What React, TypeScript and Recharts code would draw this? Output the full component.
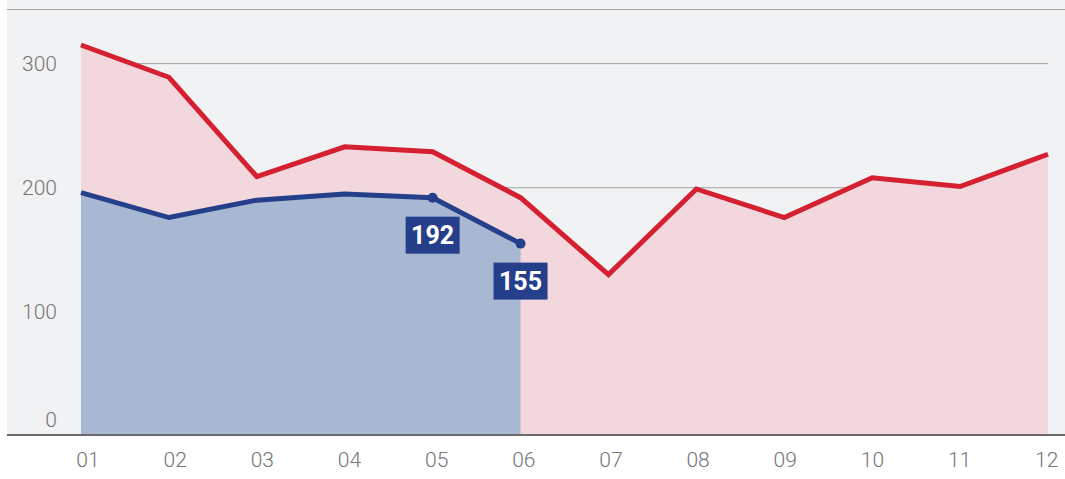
import React from "react";
import { ComposedChart, Area, XAxis, YAxis, CartesianGrid, LabelList } from "recharts";

const months = ["01", "02", "03", "04", "05", "06", "07", "08", "09", "10", "11", "12"];
const prevYear = [315, 289, 209, 233, 229, 192, 130, 199, 176, 208, 201, 227];
const thisYear = [196, 176, 190, 195, 192, 155];
const yTicks = [0, 100, 200, 300];
const labelledMonths = ["05", "06"];

const data = months.map((m, i) => ({
  month: m,
  prev: prevYear[i],
  cur: i < thisYear.length ? thisYear[i] : null,
}));

const YTick = (props: any) => {
  const { y, payload } = props;
  const shift = payload.value === 0 ? -16 : 0;
  return (
    <text x={57} y={y + shift + 7} textAnchor="end" fill="#757575" fontSize={21} fontWeight={300} fontFamily="Roboto">
      {payload.value}
    </text>
  );
};

const XTick = (props: any) => {
  const { x, payload, index } = props;
  // labels sit slightly right of the points at the start, drifting back by the end
  const nudge = 7 - 0.75 * index;
  return (
    <text x={x + nudge} y={467} textAnchor="middle" fill="#757575" fontSize={21} fontWeight={300} fontFamily="Roboto">
      {payload.value}
    </text>
  );
};

const Dot = (props: any) => {
  const { cx, cy, payload } = props;
  if (!labelledMonths.includes(payload.month) || cy == null) return <g />;
  return <circle cx={cx} cy={cy} r={5} fill="#253f8a" />;
};

const ValueLabel = (props: any) => {
  const { x, y, value, index } = props;
  if (!labelledMonths.includes(months[index]) || value == null) return null;
  const w = 54;
  const h = 37;
  const top = y + 19;
  return (
    <g>
      <rect x={x - w / 2} y={top} width={w} height={h} fill="#253f8a" />
      <text x={x} y={top + h / 2 + 9} textAnchor="middle" fill="#ffffff" fontSize={25} fontWeight={700} fontFamily="Roboto">
        {value}
      </text>
    </g>
  );
};

export default function App() {
  return (
    <div style={{ position: "absolute", left: 0, top: 0, width: 1065, height: 479, background: "#fff" }}>
      <div style={{ position: "absolute", left: 7, top: 0, width: 1058, height: 435, background: "#f1f2f4" }} />
      <div style={{ position: "absolute", left: 0, top: 0 }}>
        <ComposedChart width={1065} height={479} data={data} margin={{ top: 9, right: 17, left: 0, bottom: 0 }}>
          <CartesianGrid vertical={false} stroke="#a3a3a3" strokeWidth={1} horizontalValues={[100, 200, 300]} />
          <XAxis dataKey="month" axisLine={false} tickLine={false} tick={<XTick />} height={43} interval={0} />
          <YAxis domain={[0, 344]} ticks={yTicks} axisLine={false} tickLine={false} tick={<YTick />} width={81} />
          <Area
            type="linear"
            dataKey="prev"
            stroke="#d42030"
            strokeWidth={5}
            fill="#f2d8dd"
            fillOpacity={1}
            dot={false}
            activeDot={false}
            isAnimationActive={false}
          />
          <Area
            type="linear"
            dataKey="cur"
            stroke="#253f8a"
            strokeWidth={5}
            fill="#a8b8d3"
            fillOpacity={1}
            dot={<Dot />}
            activeDot={false}
            isAnimationActive={false}
          >
            <LabelList dataKey="cur" content={<ValueLabel />} />
          </Area>
        </ComposedChart>
      </div>
      <div style={{ position: "absolute", left: 7, top: 9, width: 1058, height: 1, background: "#a3a3a3" }} />
      <div style={{ position: "absolute", left: 7, top: 434, width: 1058, height: 1.5, background: "#6b6b6b" }} />
    </div>
  );
}
